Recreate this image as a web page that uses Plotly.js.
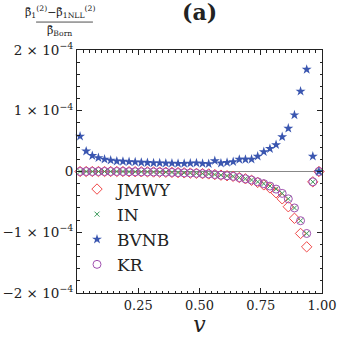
<!DOCTYPE html>
<html>
<head>
<script src="https://cdn.plot.ly/plotly-3.0.1.min.js"></script>
<style>body{margin:0;padding:0;background:#fff}</style>
</head>
<body>
<div id="myDiv" style="width:338px;height:337px"></div>
<script>
// v values (bin centres) and the four series, in units of 1e-4
var v = [0.0125, 0.0375, 0.0625, 0.0875, 0.1125, 0.1375, 0.1625, 0.1875, 0.2125, 0.2375,
         0.2625, 0.2875, 0.3125, 0.3375, 0.3625, 0.3875, 0.4125, 0.4375, 0.4625, 0.4875,
         0.5125, 0.5375, 0.5625, 0.5875, 0.6125, 0.6375, 0.6625, 0.6875, 0.7125, 0.7375,
         0.7625, 0.7875, 0.8125, 0.8375, 0.8625, 0.8875, 0.9125, 0.9375, 0.9625, 0.9875];

var jmwy = [0, 0, 0, 0, 0, 0, 0, 0, -0.003, -0.004,
            -0.005, -0.006, -0.008, -0.01, -0.012, -0.015, -0.018, -0.022, -0.026, -0.03,
            -0.035, -0.04, -0.05, -0.06, -0.07, -0.08, -0.1, -0.12, -0.145, -0.18,
            -0.22, -0.27, -0.35, -0.45, -0.58, -0.77, -1.02, -1.24, -0.17, 0];

var inn = [0, 0, 0, 0, 0, 0, 0, 0, -0.003, -0.004,
           -0.005, -0.006, -0.008, -0.01, -0.012, -0.015, -0.018, -0.022, -0.026, -0.03,
           -0.035, -0.04, -0.05, -0.06, -0.07, -0.08, -0.1, -0.12, -0.14, -0.17,
           -0.2, -0.24, -0.29, -0.36, -0.45, -0.6, -0.81, -1.02, -0.17, 0];

var bvnb = [0.58, 0.335, 0.26, 0.225, 0.2, 0.185, 0.17, 0.165, 0.16, 0.155,
            0.15, 0.145, 0.14, 0.14, 0.135, 0.135, 0.13, 0.13, 0.135, 0.14,
            0.13, 0.127, 0.176, 0.137, 0.148, 0.16, 0.198, 0.198, 0.2, 0.25,
            0.325, 0.375, 0.44, 0.57, 0.71, 0.93, 1.32, 1.68, 0.25, 0];

var kr = [0, 0, 0, 0, 0, 0, 0, 0, -0.003, -0.004,
          -0.005, -0.006, -0.008, -0.01, -0.012, -0.015, -0.018, -0.022, -0.026, -0.03,
          -0.035, -0.04, -0.05, -0.06, -0.07, -0.08, -0.1, -0.12, -0.14, -0.17,
          -0.2, -0.24, -0.29, -0.36, -0.45, -0.6, -0.81, -1.02, -0.17, 0];

var xTicks = [0.25, 0.5, 0.75, 1.0];
var xTickText = ['0.25', '0.50', '0.75', '1.00'];
var yTicks = [-2, -1, 0, 1, 2];
var yTickText = ['\u22122 \u00d7 10<sup>\u22124</sup>', '\u22121 \u00d7 10<sup>\u22124</sup>', '0',
                 '1 \u00d7 10<sup>\u22124</sup>', '2 \u00d7 10<sup>\u22124</sup>'];

var serif = 'DejaVu Serif';

var trace1 = {
  x: v, y: jmwy, name: 'JMWY', mode: 'markers', type: 'scatter', cliponaxis: false,
  marker: { symbol: 'diamond-open', size: 8, color: '#f04848', line: { width: 1 } }
};
var trace2 = {
  x: v, y: inn, name: 'IN', mode: 'markers', type: 'scatter', cliponaxis: false,
  marker: { symbol: 'x-thin-open', size: 5, color: '#3a9a5a', line: { width: 1, color: '#3a9a5a' } }
};
var trace3 = {
  x: v, y: bvnb, name: 'BVNB', mode: 'markers', type: 'scatter', cliponaxis: false,
  marker: { symbol: 'star', size: 7.5, color: '#3a56b0', line: { width: 0 } }
};
var trace4 = {
  x: v, y: kr, name: 'KR', mode: 'markers', type: 'scatter', cliponaxis: false,
  marker: { symbol: 'circle-open', size: 8, color: '#a050b0', line: { width: 1 } }
};

var data = [trace1, trace2, trace4, trace3];
// legend order: JMWY, IN, BVNB, KR
trace1.legendrank = 1; trace2.legendrank = 2; trace3.legendrank = 3; trace4.legendrank = 4;

var layout = {
  width: 338, height: 337,
  margin: { l: 77, r: 16, t: 50, b: 44 },
  paper_bgcolor: '#fff', plot_bgcolor: '#fff',
  font: { family: serif, color: '#222' },
  showlegend: true,
  legend: {
    x: 0.0, y: 0.5, xanchor: 'left', yanchor: 'top',
    bgcolor: 'rgba(0,0,0,0)', font: { family: serif, size: 17, color: '#222' },
    itemsizing: 'trace'
  },
  xaxis: {
    range: [0, 1], tickvals: xTicks, ticktext: xTickText,
    showgrid: false, zeroline: false,
    showline: true, linecolor: '#222', linewidth: 1, mirror: 'allticks',
    ticks: 'inside', ticklen: 5, tickcolor: '#222',
    tickfont: { family: serif, size: 13 },
    minor: { dtick: 0.025, ticks: 'inside', ticklen: 2.5, tickcolor: '#222', showgrid: false },
    title: { text: '<i>v</i>', font: { family: serif, size: 22 }, standoff: 8 }
  },
  yaxis: {
    range: [-2, 2], tickvals: yTicks, ticktext: yTickText,
    showgrid: false, zeroline: true, zerolinecolor: '#888', zerolinewidth: 1.2,
    showline: true, linecolor: '#222', linewidth: 1, mirror: 'allticks',
    ticks: 'inside', ticklen: 5, tickcolor: '#222',
    tickfont: { family: serif, size: 13.5 },
    minor: { dtick: 0.2, ticks: 'inside', ticklen: 2.5, tickcolor: '#222', showgrid: false }
  },
  annotations: [
    { xref: 'paper', yref: 'paper', x: 0.5, y: 1.095, xanchor: 'center', yanchor: 'bottom',
      text: '<b>(a)</b>', showarrow: false, font: { family: serif, size: 22, color: '#222' } },
    { xref: 'paper', yref: 'paper', x: -0.07, y: 1.118, xanchor: 'center', yanchor: 'bottom',
      text: '\u03b2\u0304<sub>1</sub><sup>(2)</sup>\u2212\u03b2\u0304<sub>1NLL</sub><sup>(2)</sup>',
      showarrow: false, borderpad: 0, font: { family: serif, size: 11, color: '#222' } },
    { xref: 'paper', yref: 'paper', x: -0.07, y: 1.11, xanchor: 'center', yanchor: 'top',
      text: '\u03b2\u0304<sub>Born</sub>',
      showarrow: false, borderpad: 0, font: { family: serif, size: 11, color: '#222' } }
  ],
  shapes: [
    { type: 'line', xref: 'paper', yref: 'paper', x0: -0.167, x1: 0.065, y0: 1.115, y1: 1.115,
      line: { color: '#222', width: 0.8 } }
  ]
};

Plotly.newPlot('myDiv', data, layout, { displayModeBar: false, staticPlot: true });
</script>
</body>
</html>
